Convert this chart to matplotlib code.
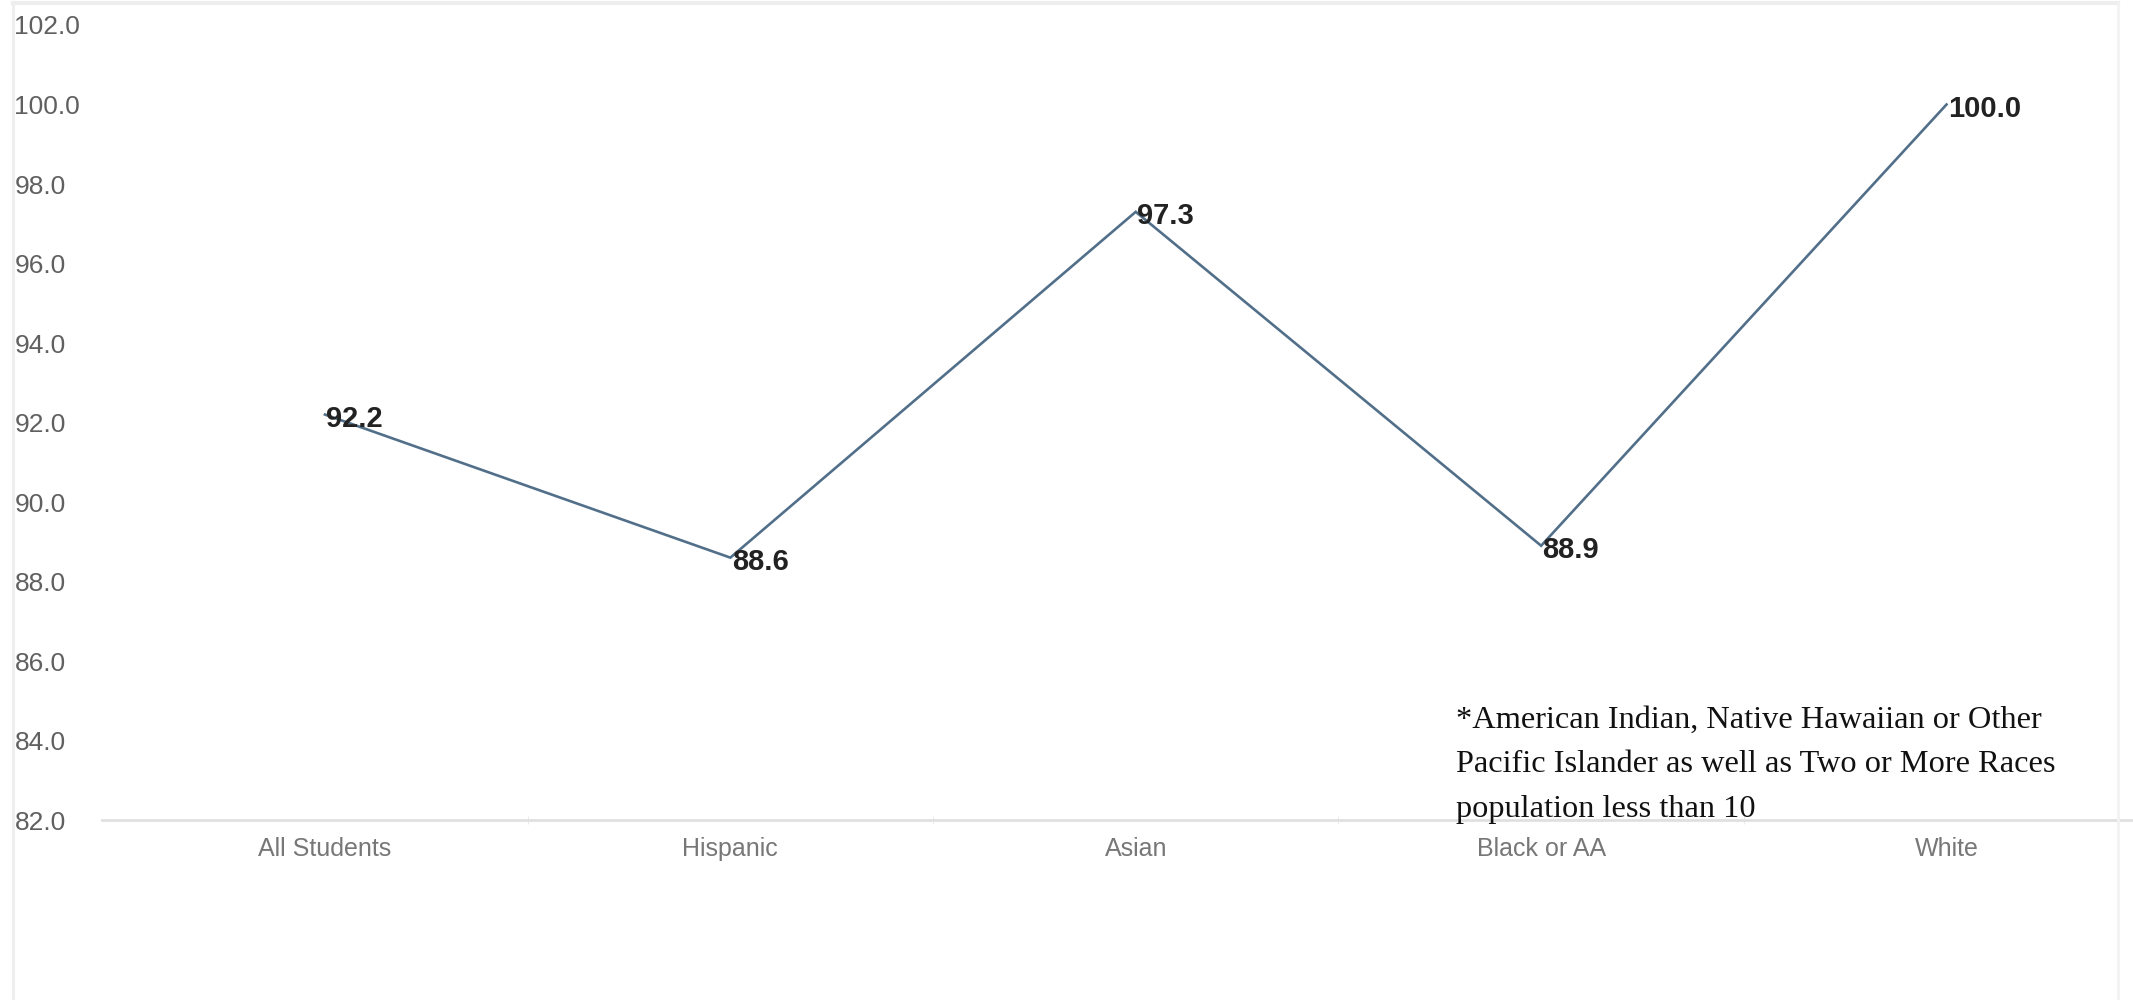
import numpy as np
import matplotlib.pyplot as plt
from matplotlib.lines import Line2D

# data
groups = ['All Students', 'Hispanic', 'Asian', 'Black or AA', 'White']
rates = [92.2, 88.6, 97.3, 88.9, 100.0]
yticks = np.arange(82, 102.1, 2)
note = ('*American Indian, Native Hawaiian or Other\n'
        'Pacific Islander as well as Two or More Races\n'
        'population less than 10')

plt.rcParams['font.family'] = 'Liberation Sans'

fig = plt.figure(figsize=(21.33, 10), dpi=100)
ax = fig.add_axes([102/2133, 0.18, 1 - 102/2133, 0.795])

x = np.arange(len(groups))
ax.plot(x, rates, color='#526f8a', lw=1.9, solid_joinstyle='miter')
for xi, v in zip(x, rates):
    ax.annotate('%.1f' % v, (xi, v), textcoords='offset points', xytext=(1, -3),
                ha='left', va='center', fontsize=21, fontweight='bold', color='#222222')

ax.set_xlim(-0.55, 4.46)
ax.set_ylim(82, 102)
ax.set_yticks(yticks)
ax.set_yticklabels(['%.1f' % t for t in yticks])
ax.set_xticks(x)
ax.set_xticklabels(groups)
ax.set_xticks(x[:-1] + 0.5, minor=True)

ax.tick_params(axis='y', length=0, pad=63, labelsize=19, labelcolor='#606060')
for lab in ax.get_yticklabels():
    lab.set_horizontalalignment('left')
ax.tick_params(axis='x', which='major', length=0, pad=12, labelsize=18, labelcolor='#777777')
ax.tick_params(axis='x', which='minor', length=6, color='#e6e6e6', direction='inout')

for s in ['top', 'right', 'left']:
    ax.spines[s].set_visible(False)
ax.spines['bottom'].set_color('#e0e0e0')
ax.spines['bottom'].set_linewidth(2)

# footnote
fig.text(1456/2133, 1 - 765/1000, note, family='Liberation Serif', fontsize=23.3,
         ha='left', va='center', linespacing=1.7, color='#111111')

# light frame of the chart container
fig.add_artist(Line2D([13/2133, 13/2133], [0, 1 - 3/1000], transform=fig.transFigure, color='#eeeeee', lw=2))
fig.add_artist(Line2D([13/2133, 2118/2133], [1 - 3/1000, 1 - 3/1000], transform=fig.transFigure, color='#eeeeee', lw=3))
fig.add_artist(Line2D([2118/2133, 2118/2133], [0, 1 - 3/1000], transform=fig.transFigure, color='#f2f2f2', lw=2))

fig.savefig('out.png', dpi=100)
